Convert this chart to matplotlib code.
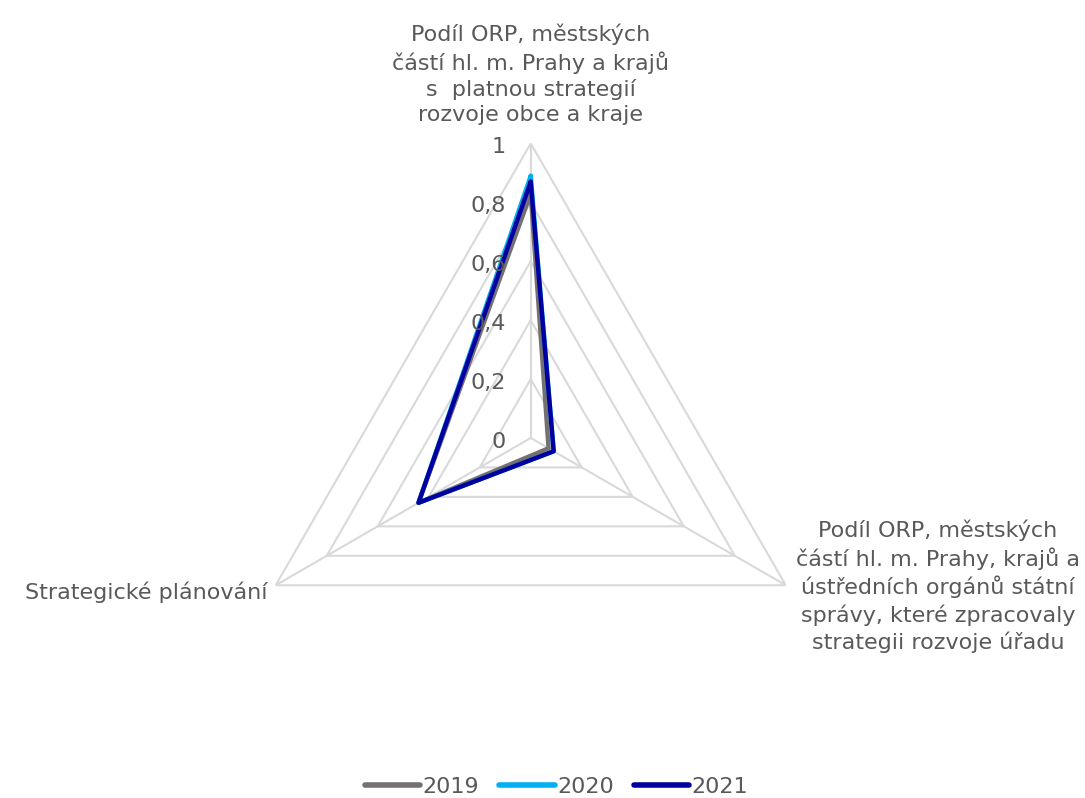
import numpy as np
import matplotlib
matplotlib.use("Agg")
import matplotlib.pyplot as plt

categories = [
    "Podíl ORP, městských\nčástí hl. m. Prahy a krajů\ns  platnou strategií\nrozvoje obce a kraje",
    "Podíl ORP, městských\nčástí hl. m. Prahy, krajů a\nústředních orgánů státní\nsprávy, které zpracovaly\nstrategii rozvoje úřadu",
    "Strategické plánování",
]
series_names = ["2019", "2020", "2021"]
values_2019 = [0.83, 0.07, 0.44]
values_2020 = [0.89, 0.09, 0.44]
values_2021 = [0.87, 0.09, 0.44]
tick_values = [0, 0.2, 0.4, 0.6, 0.8, 1.0]
tick_labels = ["0", "0,2", "0,4", "0,6", "0,8", "1"]

colors = ["#767171", "#00B0F0", "#0000A0"]
text_color = "#595959"
grid_color = "#D9D9D9"
plt.rcParams['font.family'] = ['DejaVu Sans']
fs = 16

fig = plt.figure(figsize=(10.85, 7.98), dpi=100)
ax = fig.add_axes([0.2177, 0.0821, 0.5429, 0.7381], projection='polar')
ax.set_theta_offset(np.pi / 2)
ax.set_theta_direction(-1)
ax.set_ylim(0, 1)
ax.grid(False)
ax.spines['polar'].set_visible(False)
ax.set_xticks([])
ax.set_yticks([])
ax.patch.set_visible(False)

n = len(categories)
angles = [2 * np.pi * i / n for i in range(n)]
closed = angles + angles[:1]

# triangular gridlines and spokes
for t in tick_values[1:]:
    ax.plot(closed, [t] * (n + 1), color=grid_color, lw=1.5, zorder=1)
for a in angles:
    ax.plot([a, a], [0, 1], color=grid_color, lw=1.5, zorder=1)

for name, vals, c in zip(series_names, [values_2019, values_2020, values_2021], colors):
    ax.plot(closed, list(vals) + [vals[0]], color=c, lw=3.2, label=name,
            solid_joinstyle='round', solid_capstyle='round', zorder=3)

for t, lab in zip(tick_values, tick_labels):
    ax.annotate(lab, xy=(0, t), xytext=(-25, -4), textcoords='offset pixels',
                ha='right', va='center', fontsize=fs, color=text_color)

ax.annotate(categories[0], xy=(angles[0], 1), xytext=(0, 18), textcoords='offset pixels',
            ha='center', va='bottom', multialignment='center', fontsize=fs,
            color=text_color, linespacing=1.33)
ax.annotate(categories[1], xy=(angles[1], 1), xytext=(10, -1), textcoords='offset pixels',
            ha='left', va='center', multialignment='center', fontsize=fs,
            color=text_color, linespacing=1.33)
ax.annotate(categories[2], xy=(angles[2], 1), xytext=(-8, -7), textcoords='offset pixels',
            ha='right', va='center', fontsize=fs, color=text_color)

leg = fig.legend(loc='center', bbox_to_anchor=(0.513, 0.014), ncol=3, frameon=False,
                 fontsize=fs, handlelength=2.5, handletextpad=0.1, columnspacing=0.9)
for t in leg.get_texts():
    t.set_color(text_color)
for h in leg.get_lines():
    h.set_linewidth(4)
    h.set_solid_capstyle('round')

fig.savefig("out.png", dpi=100)
